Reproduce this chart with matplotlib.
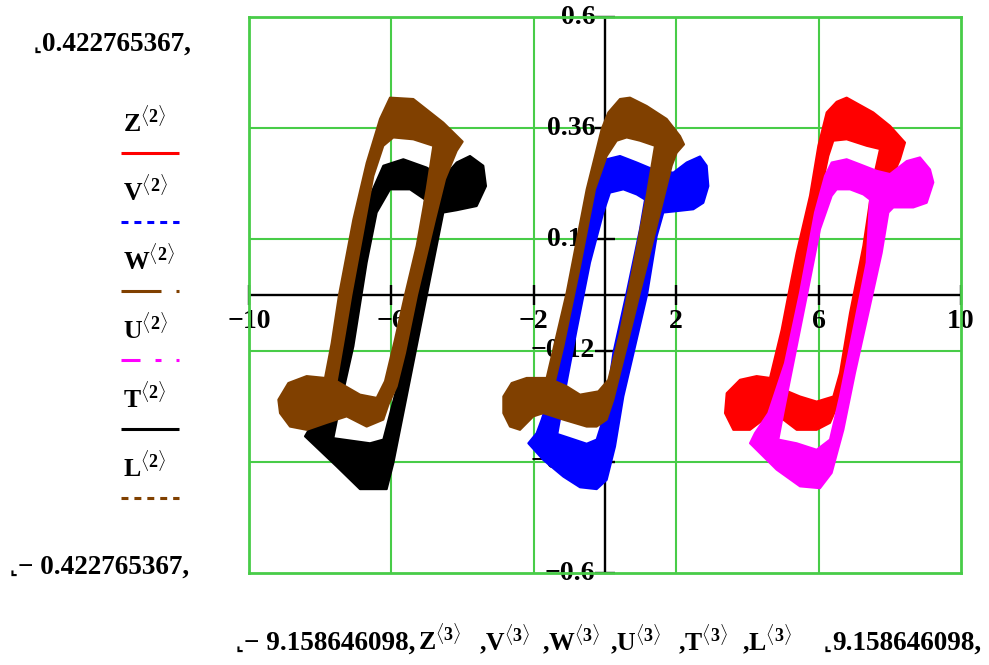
import numpy as np
import matplotlib
matplotlib.use('Agg')
import matplotlib.pyplot as plt
from matplotlib.path import Path
from matplotlib.patches import PathPatch
from matplotlib.lines import Line2D

plt.rcParams['font.family'] = ['Liberation Serif', 'DejaVu Serif', 'DejaVu Sans']
plt.rcParams['font.weight'] = 'bold'
plt.rcParams['mathtext.fontset'] = 'custom'
plt.rcParams['mathtext.rm'] = 'Liberation Serif:bold'
plt.rcParams['mathtext.bf'] = 'Liberation Serif:bold'
plt.rcParams['mathtext.it'] = 'Liberation Serif:bold'
plt.rcParams['lines.scale_dashes'] = False

# ---------------- data ----------------
series_names = ['Z', 'V', 'W', 'U', 'T', 'L']
series_colors = ['#ff0000', '#0000ff', '#804000', '#ff00ff', '#000000', '#804000']
series_dashes = [None, (5, 4.3), (28.8, 10.8), (13.7, 10.8, 4.3, 10.8), None, (5, 4.3)]

# Z (red) band: outer outline and inner hole
z_outer_x = [6.227, 6.507, 6.788, 7.537, 8.006, 8.427, 8.287, 8.146, 7.912, 7.444, 6.976, 6.601, 6.320,
             5.946, 5.384, 5.009, 4.447, 4.073, 3.605, 3.371, 3.418, 3.792, 4.260, 4.635, 4.962, 5.150,
             5.384, 5.758, 5.993]
z_outer_y = [0.394, 0.417, 0.426, 0.394, 0.365, 0.329, 0.293, 0.268, 0.192, 0.034, -0.125, -0.226, -0.276,
             -0.291, -0.291, -0.269, -0.269, -0.291, -0.291, -0.255, -0.212, -0.183, -0.175, -0.179, -0.075,
             0.000, 0.091, 0.214, 0.322]
z_inner_x = [6.414, 6.788, 7.350, 7.725, 7.537, 7.257, 6.882, 6.601, 6.414, 5.946, 5.477, 5.009, 5.290,
             5.665, 6.039, 6.273]
z_inner_y = [0.333, 0.336, 0.322, 0.315, 0.250, 0.106, -0.039, -0.168, -0.219, -0.230, -0.219, -0.204,
             -0.075, 0.070, 0.214, 0.300]

# V (blue)
v_outer_x = [0.047, 0.421, 0.890, 1.358, 1.919, 2.294, 2.669, 2.856, 2.903, 2.762, 2.481, 2.013, 1.639,
             1.451, 1.180, 0.890, 0.515, 0.281, 0.047, -0.234, -0.702, -1.170, -1.732, -2.154, -1.919,
             -1.779, -1.358, -0.936, -0.515, -0.187]
v_outer_y = [0.293, 0.300, 0.286, 0.271, 0.264, 0.286, 0.299, 0.279, 0.235, 0.199, 0.185, 0.181, 0.178,
             0.127, 0.000, -0.096, -0.219, -0.327, -0.399, -0.419, -0.415, -0.392, -0.356, -0.320, -0.298,
             -0.269, -0.168, -0.003, 0.142, 0.250]
v_inner_x = [0.140, 0.515, 0.890, 1.124, 0.983, 0.609, 0.234, 0.000, -0.234, -0.515, -0.983, -1.339,
             -1.170, -0.796, -0.421, -0.047]
v_inner_y = [0.221, 0.228, 0.217, 0.206, 0.142, 0.005, -0.125, -0.255, -0.312, -0.321, -0.309, -0.300,
             -0.226, -0.075, 0.070, 0.178]

# W (brown, middle)
w_outer_x = [0.094, 0.421, 0.702, 1.170, 1.732, 2.107, 2.219, 2.013, 1.873, 1.592, 1.311, 0.964, 0.609,
             0.234, 0.047, -0.234, -0.515, -1.170, -1.732, -2.013, -2.388, -2.669, -2.856, -2.856, -2.622,
             -2.200, -1.639, -1.077, -0.515, -0.281, -0.094]
w_outer_y = [0.394, 0.423, 0.426, 0.408, 0.380, 0.343, 0.325, 0.307, 0.279, 0.192, 0.106, 0.000, -0.111,
             -0.226, -0.269, -0.284, -0.284, -0.269, -0.255, -0.262, -0.291, -0.284, -0.255, -0.219, -0.190,
             -0.179, -0.179, 0.005, 0.228, 0.300, 0.358]
w_inner_x = [0.328, 0.609, 0.983, 1.404, 1.170, 0.796, 0.421, 0.094, -0.187, -0.702, -1.077, -1.404,
             -1.170, -0.702, -0.281, 0.047]
w_inner_y = [0.333, 0.340, 0.333, 0.322, 0.214, 0.062, -0.082, -0.183, -0.208, -0.215, -0.197, -0.186,
             -0.111, 0.062, 0.228, 0.300]

# U (magenta)
u_outer_x = [6.367, 6.788, 7.163, 7.631, 8.006, 8.474, 8.848, 9.129, 9.223, 9.036, 8.661, 8.099, 7.959,
             7.772, 7.397, 7.022, 6.695, 6.367, 6.039, 5.477, 4.822, 4.073, 4.213, 4.588, 5.056, 5.478,
             5.899, 6.180]
u_outer_y = [0.286, 0.293, 0.282, 0.268, 0.261, 0.289, 0.297, 0.271, 0.243, 0.199, 0.189, 0.189, 0.178,
             0.091, -0.039, -0.168, -0.291, -0.384, -0.417, -0.413, -0.377, -0.320, -0.298, -0.255, -0.147,
             0.005, 0.178, 0.257]
u_inner_x = [6.508, 6.882, 7.257, 7.444, 7.350, 6.976, 6.601, 6.320, 5.946, 5.384, 4.869, 5.009, 5.290,
             5.665, 6.039, 6.367]
u_inner_y = [0.228, 0.228, 0.217, 0.206, 0.070, -0.075, -0.219, -0.312, -0.334, -0.320, -0.312, -0.255,
             -0.147, -0.003, 0.142, 0.214]

# T (black)
t_outer_x = [-6.227, -5.665, -5.009, -4.541, -4.167, -3.792, -3.418, -3.343, -3.605, -4.167, -4.541,
             -4.916, -5.478, -5.946, -6.133, -6.882, -7.537, -8.427, -8.099, -7.818, -7.069, -6.601]
t_outer_y = [0.279, 0.293, 0.275, 0.253, 0.286, 0.300, 0.279, 0.235, 0.192, 0.183, 0.178, 0.034, -0.183,
             -0.363, -0.419, -0.419, -0.370, -0.305, -0.262, -0.183, 0.070, 0.214]
t_inner_x = [-6.039, -5.478, -5.056, -5.243, -5.665, -6.227, -6.601, -7.631, -7.491, -7.069, -6.695, -6.414]
t_inner_y = [0.228, 0.228, 0.206, 0.034, -0.147, -0.312, -0.320, -0.309, -0.255, -0.111, 0.070, 0.178]

# L (brown, left)
l_outer_x = [-6.320, -6.039, -5.384, -4.541, -3.998, -4.167, -4.494, -4.775, -5.281, -5.618, -5.852,
             -6.086, -6.227, -6.695, -7.257, -7.818, -8.380, -8.848, -9.129, -9.176, -8.895, -8.380,
             -7.865, -7.678, -7.472, -7.069, -6.695]
l_outer_y = [0.380, 0.426, 0.423, 0.372, 0.331, 0.311, 0.250, 0.163, 0.000, -0.125, -0.197, -0.237,
             -0.269, -0.284, -0.262, -0.276, -0.291, -0.284, -0.255, -0.226, -0.190, -0.175, -0.179,
             -0.104, 0.000, 0.163, 0.285]
l_inner_x = [-5.946, -5.384, -4.822, -5.009, -5.290, -5.618, -5.899, -6.180, -6.414, -6.882, -7.537,
             -7.303, -7.125, -6.835, -6.507, -6.227]
l_inner_y = [0.340, 0.336, 0.322, 0.228, 0.106, 0.000, -0.096, -0.186, -0.222, -0.215, -0.186, -0.082,
             0.000, 0.120, 0.257, 0.322]

x_ticks = [-10, -6, -2, 2, 6, 10]
x_tick_labels = ['\u221210', '\u22126', '\u22122', '2', '6', '10']
y_ticks = [0.6, 0.36, 0.12, -0.12, -0.36, -0.6]
y_tick_labels = ['0.6', '0.36', '0.12', '\u22120.12', '\u22120.36', '\u22120.6']
y_limit_text = '0.422765367'
x_limit_text = '9.158646098'

shapes = {
    'Z': (z_outer_x, z_outer_y, z_inner_x, z_inner_y),
    'V': (v_outer_x, v_outer_y, v_inner_x, v_inner_y),
    'W': (w_outer_x, w_outer_y, w_inner_x, w_inner_y),
    'U': (u_outer_x, u_outer_y, u_inner_x, u_inner_y),
    'T': (t_outer_x, t_outer_y, t_inner_x, t_inner_y),
    'L': (l_outer_x, l_outer_y, l_inner_x, l_inner_y),
}

# ---------------- figure ----------------
W, H = 989, 665
fig = plt.figure(figsize=(W / 100, H / 100), dpi=100)
fig.patch.set_facecolor('white')
ax = fig.add_axes([249 / W, 1 - 573 / H, 712 / W, 556 / H])
ax.set_xlim(-10, 10)
ax.set_ylim(-0.6, 0.6)
ax.set_xticks([])
ax.set_yticks([])
green = '#48cc48'
for s in ax.spines.values():
    s.set_color(green)
    s.set_linewidth(2.0)

for xt in x_ticks[1:-1]:
    ax.axvline(xt, color=green, lw=1.5, zorder=1)
for yt in y_ticks[1:-1]:
    ax.axhline(yt, color=green, lw=1.5, zorder=1)

ax.axhline(0, color='black', lw=1.7, zorder=2)
ax.axvline(0, color='black', lw=1.7, zorder=2)
ax.plot(x_ticks, [0] * len(x_ticks), ls='none', marker='|', ms=15, mew=1.7, color='black',
        zorder=2, clip_on=False)
ax.plot([0] * len(y_ticks), y_ticks, ls='none', marker='_', ms=15, mew=1.7, color='black',
        zorder=2, clip_on=False)

for xt, lab in zip(x_ticks, x_tick_labels):
    ax.annotate(lab, (xt, 0), xytext=(0, -10), textcoords='offset points', ha='center', va='top',
                fontsize=20, fontweight='bold', zorder=1.5, annotation_clip=False)
for yt, lab in zip(y_ticks, y_tick_labels):
    ax.annotate(lab, (0, yt), xytext=(-7, 0), textcoords='offset points', ha='right', va='center',
                fontsize=20, fontweight='bold', zorder=1.5, annotation_clip=False)


def signed_area(p):
    x, y = p[:, 0], p[:, 1]
    return 0.5 * np.sum(x * np.roll(y, -1) - np.roll(x, -1) * y)


for name, color in zip(series_names, series_colors):
    ox, oy, ix, iy = shapes[name]
    o = np.column_stack([ox, oy])
    i = np.column_stack([ix, iy])
    if np.sign(signed_area(o)) == np.sign(signed_area(i)):
        i = i[::-1]
    verts = np.vstack([o, o[:1], i, i[:1]])
    codes = ([Path.MOVETO] + [Path.LINETO] * (len(o) - 1) + [Path.CLOSEPOLY] +
             [Path.MOVETO] + [Path.LINETO] * (len(i) - 1) + [Path.CLOSEPOLY])
    ax.add_patch(PathPatch(Path(verts, codes), facecolor=color, edgecolor=color, lw=1.5,
                           joinstyle='round', zorder=3))

# ---------------- Mathcad-style labels ----------------
def ftext(px, py, s, **kw):
    kw.setdefault('fontsize', 19.5)
    kw.setdefault('fontweight', 'bold')
    return fig.text(px / W, 1 - py / H, s, **kw)

ftext(34, 51, '\u231e', ha='left', va='baseline', fontsize=12, family=['DejaVu Sans'])
ftext(42, 51, y_limit_text + ',', ha='left', va='baseline')
ftext(10, 574, '\u231e', ha='left', va='baseline', fontsize=12, family=['DejaVu Sans'])
ftext(18, 574, '\u2212 ' + y_limit_text + ',', ha='left', va='baseline')

for k, (name, color, dash) in enumerate(zip(series_names, series_colors, series_dashes)):
    base = 132 + 69 * k
    ftext(123, base, r'$\mathbf{%s}^{\langle\mathbf{2}\rangle}$' % name, ha='left', va='baseline',
          fontsize=18.5)
    ly = 1 - (153 + 69 * k) / H
    ln = Line2D([121 / W, 179 / W], [ly, ly], transform=fig.transFigure, color=color, lw=2.2,
                solid_capstyle='butt', dash_capstyle='butt')
    if dash is not None:
        ln.set_dashes(dash)
    fig.add_artist(ln)

ftext(236, 650, '\u231e', ha='left', va='baseline', fontsize=12, family=['DejaVu Sans'])
ftext(244, 650, '\u2212 ' + x_limit_text + ',', ha='left', va='baseline')
x_pos = [418, 487, 550, 618, 686, 750]
for k, (name, xp) in enumerate(zip(series_names, x_pos)):
    prefix = '' if k == 0 else ','
    ftext(xp - (8 if k else 0), 650, prefix + r'$\mathbf{%s}^{\langle\mathbf{3}\rangle}$' % name,
          ha='left', va='baseline', fontsize=18.5)
ftext(824, 650, '\u231e', ha='left', va='baseline', fontsize=12, family=['DejaVu Sans'])
ftext(832, 650, x_limit_text + ',', ha='left', va='baseline')

fig.savefig('out.png', dpi=100)
